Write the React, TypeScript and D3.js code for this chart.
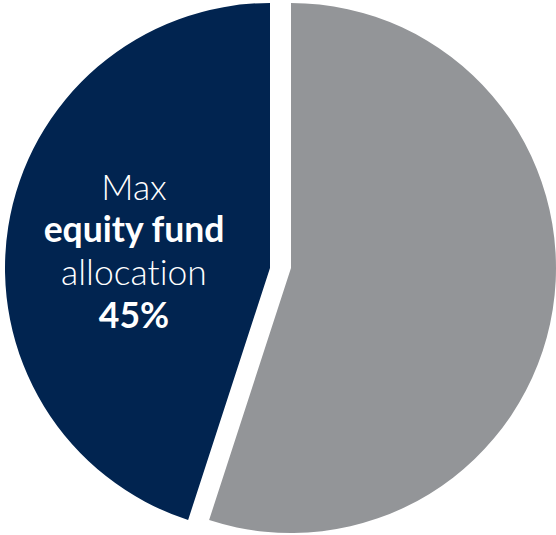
import { useEffect, useRef } from "react";
import * as d3 from "d3";

const categories = ["Other", "Max equity fund allocation"];
const shares = [55, 45];
const sliceColors = ["#939598", "#012450"];
const labelLines = [
  { text: "Max", weight: 300 },
  { text: "equity fund", weight: 700 },
  { text: "allocation", weight: 300 },
  { text: "45%", weight: 700 },
];

export default function App() {
  const chartRef = useRef<SVGSVGElement>(null);

  useEffect(() => {
    if (!chartRef.current) return;
    document.body.style.margin = "0";

    d3.select(chartRef.current).selectAll("*").remove();

    const width = 556;
    const height = 535;
    const radius = 265;
    const cx = 291;
    const cy = 268;
    const explode = 21;

    const svg = d3
      .select(chartRef.current)
      .attr("width", width)
      .attr("height", height)
      .attr("viewBox", `0 0 ${width} ${height}`);

    const data = categories.map((c, i) => ({ name: c, value: shares[i] }));

    const pie = d3
      .pie<{ name: string; value: number }>()
      .sort(null)
      .value((d) => d.value);

    const arc = d3
      .arc<d3.PieArcDatum<{ name: string; value: number }>>()
      .innerRadius(0)
      .outerRadius(radius);

    const g = svg.append("g").attr("transform", `translate(${cx},${cy})`);

    // navy slice pulled out to the left
    g.selectAll("path")
      .data(pie(data))
      .join("path")
      .attr("d", arc)
      .attr("fill", (_, i) => sliceColors[i])
      .attr("transform", (_, i) => (i === 1 ? `translate(${-explode},0)` : null));

    // label inside the navy slice
    const label = svg
      .append("text")
      .attr("text-anchor", "middle")
      .attr("fill", "#fff")
      .style("font-family", "Lato, 'Open Sans', sans-serif")
      .style("font-size", "35.5px")
      .style("font-variant-ligatures", "none");

    const baselines = [200, 242, 285, 328];
    labelLines.forEach((l, i) => {
      label
        .append("tspan")
        .attr("x", 134)
        .attr("y", baselines[i])
        .style("font-weight", l.weight)
        .text(l.text);
    });
  }, []);

  return <svg ref={chartRef}></svg>;
}
